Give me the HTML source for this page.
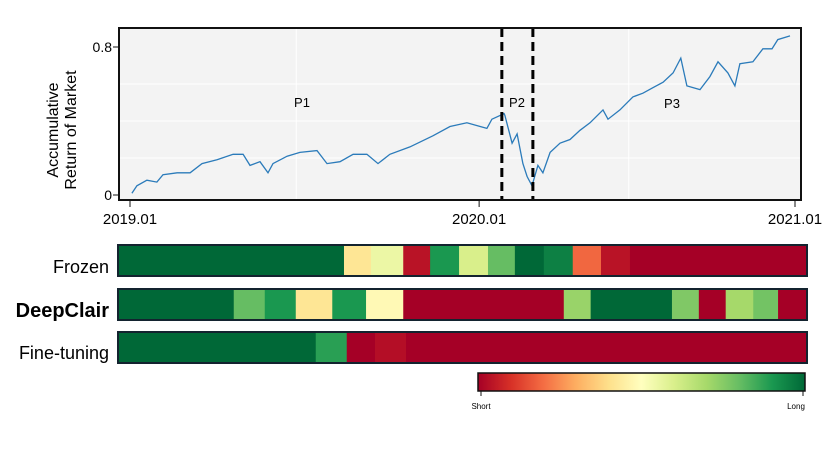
<!DOCTYPE html>
<html><head><meta charset="utf-8">
<style>
body{margin:0;background:#fff;width:830px;height:467px;overflow:hidden}
svg{display:block;font-family:"Liberation Sans",sans-serif}
</style></head>
<body>
<svg id="chart" width="830" height="467">
  <rect x="119" y="28" width="682" height="172" fill="#f3f3f3" stroke="none"/>
  <g id="grid"></g>
  <g id="line-layer"></g>
  <rect x="119" y="28" width="682" height="172" fill="none" stroke="#111" stroke-width="2"/>
  <g id="axes"></g>
  <text x="302" y="107" font-size="13" text-anchor="middle">P1</text>
  <text x="517" y="107" font-size="13" text-anchor="middle">P2</text>
  <text x="672" y="108" font-size="13" text-anchor="middle">P3</text>
  <text transform="translate(58,130) rotate(-90)" font-size="16" text-anchor="middle"><tspan x="0" dy="0">Accumulative</tspan><tspan x="0" dy="18">Return of Market</tspan></text>
  <g id="heat"></g>
  <text x="109" y="273" font-size="18" text-anchor="end">Frozen</text>
  <text x="109" y="317" font-size="20" font-weight="bold" text-anchor="end">DeepClair</text>
  <text x="109" y="359" font-size="18" text-anchor="end">Fine-tuning</text>
  <defs><linearGradient id="cb" x1="0" x2="1" y1="0" y2="0"></linearGradient></defs>
  <rect x="478" y="373" width="327" height="18" fill="url(#cb)" stroke="#111" stroke-width="1.5"/>
  <line x1="481" y1="391" x2="481" y2="396" stroke="#111"/>
  <line x1="803" y1="391" x2="803" y2="396" stroke="#111"/>
  <text x="481" y="409" font-size="8" text-anchor="middle">Short</text>
  <text x="796" y="409" font-size="8" text-anchor="middle">Long</text>
</svg>
<script>
// months since 2019.01
const months=[0.07,0.25,0.61,0.97,1.19,1.70,2.17,2.60,3.14,3.72,4.08,4.33,4.69,4.98,5.16,5.67,6.13,6.75,7.11,7.58,8.05,8.55,8.95,9.38,10.1,10.93,11.55,12.16,12.88,13.06,13.5,13.53,13.79,13.97,14.18,14.33,14.51,14.72,14.9,15.16,15.52,15.88,16.24,16.6,17.07,17.25,17.68,18.15,18.51,18.87,19.24,19.6,19.88,20.1,20.57,20.93,21.22,21.58,21.83,22.01,22.48,22.84,23.17,23.38,23.82];
const returns=[0.01,0.05,0.08,0.07,0.11,0.12,0.12,0.17,0.19,0.22,0.22,0.16,0.18,0.12,0.17,0.21,0.23,0.24,0.17,0.18,0.22,0.22,0.17,0.22,0.26,0.32,0.37,0.39,0.36,0.41,0.44,0.43,0.28,0.33,0.17,0.10,0.05,0.16,0.12,0.23,0.28,0.30,0.35,0.39,0.46,0.41,0.46,0.53,0.55,0.58,0.61,0.66,0.74,0.59,0.57,0.64,0.72,0.66,0.59,0.71,0.72,0.79,0.79,0.84,0.86];
const xTickMonths=[0,12.6,24];
const xTickLabels=["2019.01","2020.01","2021.01"];
const yTickValues=[0,0.8];
const yTickLabels=["0","0.8"];
const periodBreaks=[13.42,14.54];
// heatmap segments: end fraction of timeline, holding-score (0=short,1=long)
const frozenEnds=[.328,.367,.414,.453,.495,.537,.576,.618,.660,.701,.743,1];
const frozenScores=[1,.42,.55,.04,.9,.6,.8,1,.95,.19,.04,0];
const deepEnds=[.168,.213,.258,.311,.36,.414,.647,.686,.804,.843,.882,.922,.958,1];
const deepScores=[1,.8,.9,.42,.9,.48,0,.72,1,.76,0,.7,.78,0];
const fineEnds=[.287,.332,.373,.418,1];
const fineScores=[1,.88,0,.03,0];

const NS="http://www.w3.org/2000/svg";
function mk(tag,attrs,parent){const e=document.createElementNS(NS,tag);for(const k in attrs)e.setAttribute(k,attrs[k]);parent.appendChild(e);return e;}
const xS=m=>130+m*(665/24);
const yS=v=>195-v*185;
const stops=["#a50026","#d73027","#f46d43","#fdae61","#fee08b","#ffffbf","#d9ef8b","#a6d96a","#66bd63","#1a9850","#006837"];
function hex(h){return [1,3,5].map(i=>parseInt(h.substr(i,2),16));}
function cmap(t){const p=Math.max(0,Math.min(1,t))*10,i=Math.min(9,Math.floor(p)),f=p-i;const a=hex(stops[i]),b=hex(stops[i+1]);return "rgb("+a.map((c,j)=>Math.round(c+(b[j]-c)*f)).join(",")+")";}

const grid=document.getElementById('grid');
[6,18].forEach(m=>{const l=mk('line',{x1:xS(m),x2:xS(m),y1:29,y2:199,stroke:'#fff','stroke-width':1},grid);

});
[0.2,0.4,0.6].forEach(v=>{const l=mk('line',{x1:120,x2:800,y1:yS(v),y2:yS(v),stroke:'#fff','stroke-width':1},grid);

});

const ll=document.getElementById('line-layer');
const path=mk('path',{d:months.map((m,i)=>(i?'L':'M')+xS(m).toFixed(1)+','+yS(returns[i]).toFixed(1)).join(''),fill:'none',stroke:'#2b7bba','stroke-width':1.3},ll);


periodBreaks.forEach(m=>{const l=mk('line',{x1:xS(m),x2:xS(m),y1:28,y2:200,stroke:'#000','stroke-width':3,'stroke-dasharray':'9,5'},ll);

});

const ax=document.getElementById('axes');
xTickMonths.forEach((m,i)=>{const t=mk('line',{x1:xS(m),x2:xS(m),y1:200,y2:207,stroke:'#111'},ax);


const tx=mk('text',{x:xS(m),y:224,'font-size':15,'text-anchor':'middle'},ax);tx.textContent=xTickLabels[i];

});
yTickValues.forEach((v,i)=>{const t=mk('line',{x1:113,x2:119,y1:yS(v),y2:yS(v),stroke:'#111'},ax);


const tx=mk('text',{x:112,y:yS(v)+5,'font-size':14,'text-anchor':'end'},ax);tx.textContent=yTickLabels[i];

});

const heat=document.getElementById('heat');
const HX0=118,HW=689;
[[frozenEnds,frozenScores,245,'frozen'],[deepEnds,deepScores,289,'deepclair'],[fineEnds,fineScores,332,'fine-tuning']].forEach(([ends,sc,y,nm])=>{
 let s=0;ends.forEach((e,i)=>{const r=mk('rect',{x:HX0+s*HW,y:y,width:(e-s)*HW+0.5,height:31,fill:cmap(sc[i])},heat);
 
 
 s=e;});
 const b=mk('rect',{x:HX0,y:y,width:HW,height:31,fill:'none',stroke:'#13232f','stroke-width':2},heat);
 
 
});
const g=document.getElementById('cb');
stops.forEach((c,i)=>mk('stop',{offset:i/10,'stop-color':c},g));
</script>
</body></html>
